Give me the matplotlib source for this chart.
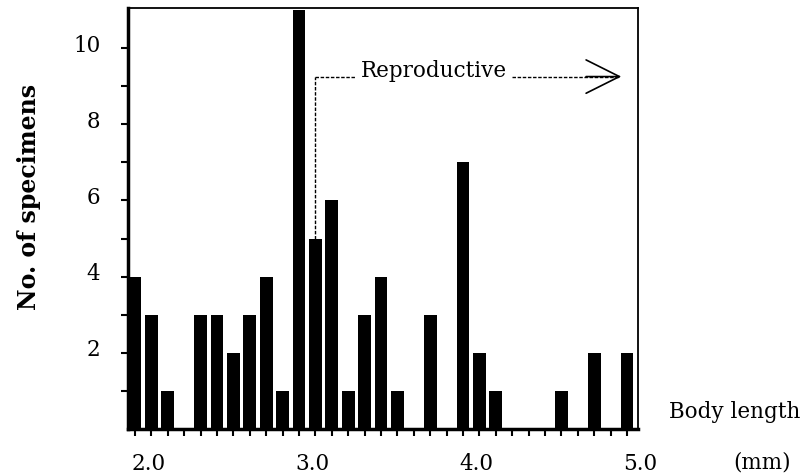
import numpy as np
import matplotlib
matplotlib.use("Agg")
import matplotlib.pyplot as plt
from matplotlib.transforms import ScaledTranslation

# bin centres (mm) and counts
body_length = np.round(np.arange(1.95, 5.0, 0.1), 2)
counts = [4, 3, 1, 0, 3, 3, 2, 3, 4, 1,
          11, 5, 6, 1, 3, 4, 1, 0, 3, 0,
          7, 2, 1, 0, 0, 0, 1, 0, 2, 0, 2]
x_labels = [2.0, 3.0, 4.0, 5.0]
y_labels = [2, 4, 6, 8, 10]

plt.rcParams['font.family'] = ['DejaVu Serif']
fs = 15.5

fig = plt.figure(figsize=(8.07, 4.76), dpi=100)
ax = fig.add_axes([0.1586, 0.0987, 0.632, 0.8845])

ax.bar(body_length, counts, width=0.078, color='black', linewidth=0)

ax.set_xlim(1.907, 5.017)
ax.set_ylim(0, 11.05)

# x: small ticks at every bin, labels at whole mm
ax.set_xticks(x_labels)
ax.set_xticklabels([f"{v:.1f}" for v in x_labels], fontsize=fs)
ax.set_xticks(body_length, minor=True)
ax.tick_params(axis='x', which='major', length=0, pad=17)
ax.tick_params(axis='x', which='minor', length=5, width=1.5, direction='out')
for lab in ax.get_xticklabels():
    lab.set_transform(lab.get_transform() + ScaledTranslation(5 / 100, 0, fig.dpi_scale_trans))

# y: ticks at every integer, labels at even numbers
ax.set_yticks(y_labels)
ax.set_yticklabels([str(v) for v in y_labels], fontsize=fs)
ax.set_yticks(range(1, 11, 2), minor=True)
ax.tick_params(axis='y', which='both', length=5, width=1.5, direction='out')
ax.tick_params(axis='y', which='major', pad=15)
for lab in ax.get_yticklabels():
    lab.set_transform(lab.get_transform() + ScaledTranslation(0, 5 / 100, fig.dpi_scale_trans))

ax.spines['left'].set_linewidth(2.5)
ax.spines['bottom'].set_linewidth(2.5)
ax.spines['top'].set_linewidth(1.3)
ax.spines['right'].set_linewidth(1.3)

# "Reproductive" marker from the 3.05 bin onwards
dash = (0, (2.5, 1.2))
y_rep = 9.25
ax.plot([3.05, 3.05], [counts[11], y_rep], color='black', lw=1, linestyle=dash)
ax.plot([3.05, 3.30], [y_rep, y_rep], color='black', lw=1, linestyle=dash)
ax.text(3.77, y_rep, "Reproductive", fontsize=fs, ha='center', va='baseline')
ax.plot([4.25, 4.90], [y_rep, y_rep], color='black', lw=1, linestyle=dash)
ax.annotate('', xy=(4.915, y_rep), xytext=(4.70, y_rep),
            arrowprops=dict(arrowstyle='->,head_length=1.2,head_width=0.6',
                            color='black', lw=1.2, mutation_scale=20,
                            shrinkA=0, shrinkB=0))

fig.text(669 / 807, 1 - 412 / 476, "Body length", fontsize=fs, ha='left', va='center')
fig.text(762 / 807, 1 - 462 / 476, "(mm)", fontsize=fs, ha='center', va='center')
fig.text(29 / 807, 1 - 197 / 476, "No. of specimens", fontsize=17, fontweight='bold',
         rotation=90, ha='center', va='center')

fig.savefig("out.png", dpi=100)
